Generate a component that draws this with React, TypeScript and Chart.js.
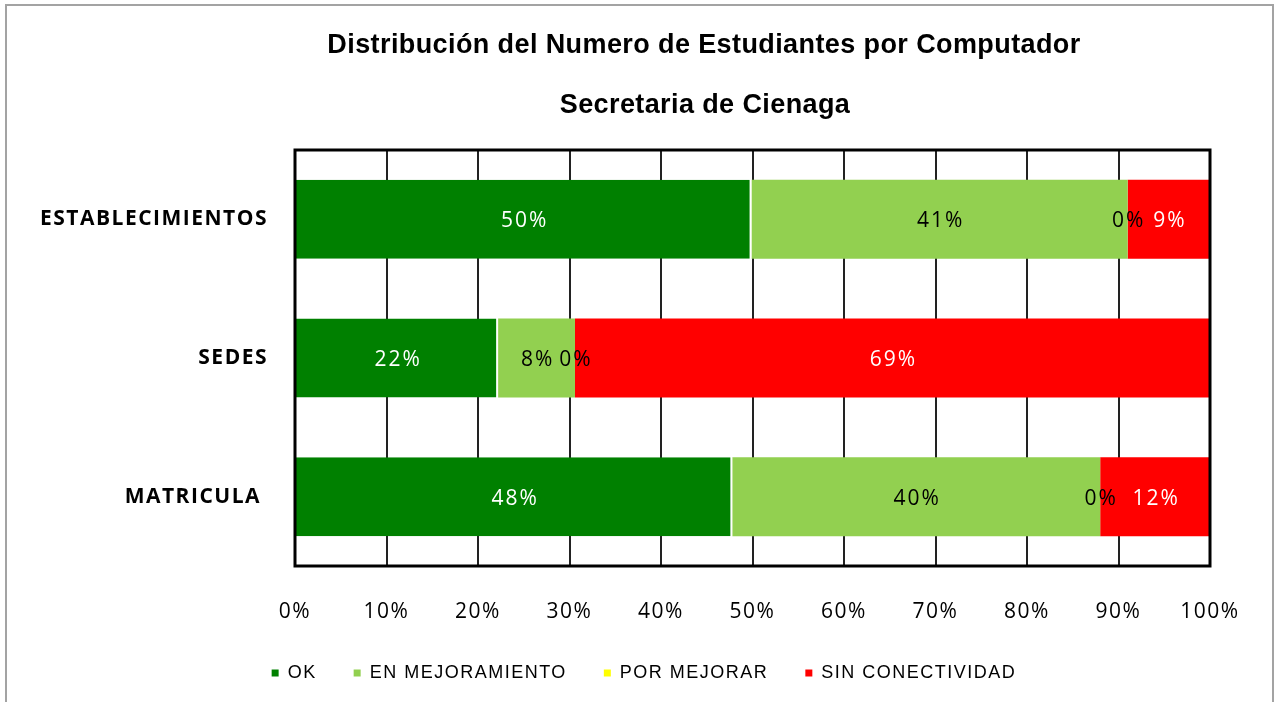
import React, { useEffect, useRef } from "react";
import { Chart, registerables } from "chart.js";

Chart.register(...registerables);

const titleLines = ["Distribución del Numero de Estudiantes por Computador", "Secretaria de Cienaga"];
const categories = ["ESTABLECIMIENTOS", "SEDES", "MATRICULA "];
const seriesNames = ["OK", "EN MEJORAMIENTO", "POR MEJORAR", "SIN CONECTIVIDAD"];
const seriesColors = ["#008000", "#92D050", "#FFFF00", "#FF0000"];
const labelColors = ["#FFFFFF", "#000000", "#000000", "#FFFFFF"];
const okValues = [49.9, 22.2, 47.8];
const enMejoramientoValues = [41.1, 8.4, 40.2];
const porMejorarValues = [0, 0, 0];
const sinConectividadValues = [9.0, 69.4, 12.0];
const xTickStep = 10;
const xMin = 0;
const xMax = 100;

const LEGEND_CENTER_X = 644;

const spacingPlugin = {
  id: "spacing",
  beforeLayout(chart: any) {
    chart.ctx.letterSpacing = "1.5px";
  },
  afterLayout(chart: any) {
    const lg = chart.legend;
    if (lg) {
      const half = (lg.right - lg.left) / 2;
      lg.left = LEGEND_CENTER_X - half;
      lg.right = LEGEND_CENTER_X + half;
    }
  },
  beforeDraw(chart: any) {
    chart.ctx.letterSpacing = "1.5px";
  },
};

const framePlugin = {
  id: "frame",
  afterDatasetsDraw(chart: any) {
    const { ctx, chartArea } = chart;
    ctx.save();
    ctx.strokeStyle = "#000";
    ctx.lineWidth = 3;
    ctx.strokeRect(chartArea.left, chartArea.top, chartArea.right - chartArea.left, chartArea.bottom - chartArea.top);
    ctx.restore();
  },
};

const dataLabelPlugin = {
  id: "dataLabels",
  afterDatasetsDraw(chart: any) {
    const { ctx } = chart;
    ctx.save();
    ctx.letterSpacing = "2px";
    ctx.font = '21px "Open Sans"';
    ctx.textAlign = "center";
    ctx.textBaseline = "middle";
    chart.data.datasets.forEach((ds: any, di: number) => {
      const meta = chart.getDatasetMeta(di);
      meta.data.forEach((el: any, i: number) => {
        const { x, y, base } = el.getProps(["x", "y", "base"], true);
        const v = ds.data[i];
        ctx.fillStyle = labelColors[di];
        ctx.fillText(Math.round(v) + "%", (x + base) / 2 + 1, y + 2);
      });
    });
    ctx.restore();
  },
};

const titlePlugin = {
  id: "customTitle",
  afterDraw(chart: any) {
    const { ctx } = chart;
    ctx.save();
    ctx.letterSpacing = "0.4px";
    ctx.font = 'bold 27px "Liberation Sans", Arial, sans-serif';
    ctx.fillStyle = "#000";
    ctx.textAlign = "center";
    ctx.textBaseline = "alphabetic";
    ctx.fillText(titleLines[0], 704, 53);
    ctx.fillText(titleLines[1], 705, 113);
    ctx.restore();
  },
};

export default function App() {
  const canvasRef = useRef<HTMLCanvasElement | null>(null);

  useEffect(() => {
    if (!canvasRef.current) return;
    const seriesValues = [okValues, enMejoramientoValues, porMejorarValues, sinConectividadValues];
    const chart = new Chart(canvasRef.current, {
      type: "bar",
      data: {
        labels: categories,
        datasets: seriesNames.map((name, i) => ({
          label: name,
          data: seriesValues[i],
          backgroundColor: seriesColors[i],
          borderColor: "#FFFFFF",
          borderWidth: i === 0 ? { top: 0, left: 0, bottom: 0, right: 2 } : 0,
          borderSkipped: false,
          categoryPercentage: 1,
          barPercentage: 0.57,
        })),
      },
      options: {
        indexAxis: "y",
        animation: false,
        responsive: false,
        devicePixelRatio: 1,
        layout: { padding: { top: 150, left: 30, right: 64, bottom: 10 } },
        scales: {
          x: {
            type: "linear",
            stacked: true,
            min: xMin,
            max: xMax,
            ticks: {
              stepSize: xTickStep,
              callback: (v: any) => v + "%",
              font: { family: '"Open Sans"', size: 21 },
              color: "#000",
              padding: 33,
            },
            grid: { color: "#222", lineWidth: 2, drawTicks: false },
            border: { display: false },
            afterFit: (s: any) => {
              s.height = 61;
            },
          },
          y: {
            type: "category",
            stacked: true,
            grid: { display: false, drawTicks: false },
            border: { display: false },
            ticks: {
              font: { family: '"Open Sans"', size: 21, weight: "bold" },
              color: "#000",
              padding: 27,
            },
            afterFit: (s: any) => {
              s.width = 265;
            },
          },
        },
        plugins: {
          title: { display: false },
          tooltip: { enabled: false },
          legend: {
            display: true,
            position: "bottom",
            labels: {
              boxWidth: 7,
              boxHeight: 7,
              padding: 37,
              color: "#000",
              font: { family: '"Liberation Sans", Arial, sans-serif', size: 18 },
              generateLabels: (c: any) =>
                (Chart.defaults.plugins.legend.labels.generateLabels as any)(c).map((it: any) => ({
                  ...it,
                  lineWidth: 0,
                  strokeStyle: "rgba(0,0,0,0)",
                })),
            },
          },
        },
      } as any,
      plugins: [spacingPlugin, framePlugin, dataLabelPlugin, titlePlugin],
    });
    return () => chart.destroy();
  }, []);

  return (
    <div style={{ position: "fixed", left: 0, top: 0, width: 1274, height: 702, overflow: "hidden", background: "#fff" }}>
      <div
        style={{
          position: "absolute",
          left: 5,
          top: 4,
          width: 1269,
          height: 800,
          border: "2px solid #a3a3a3",
          boxSizing: "border-box",
        }}
      />
      <canvas
        ref={canvasRef}
        width={1274}
        height={702}
        style={{ position: "absolute", left: 0, top: 0, width: 1274, height: 702 }}
      />
    </div>
  );
}
